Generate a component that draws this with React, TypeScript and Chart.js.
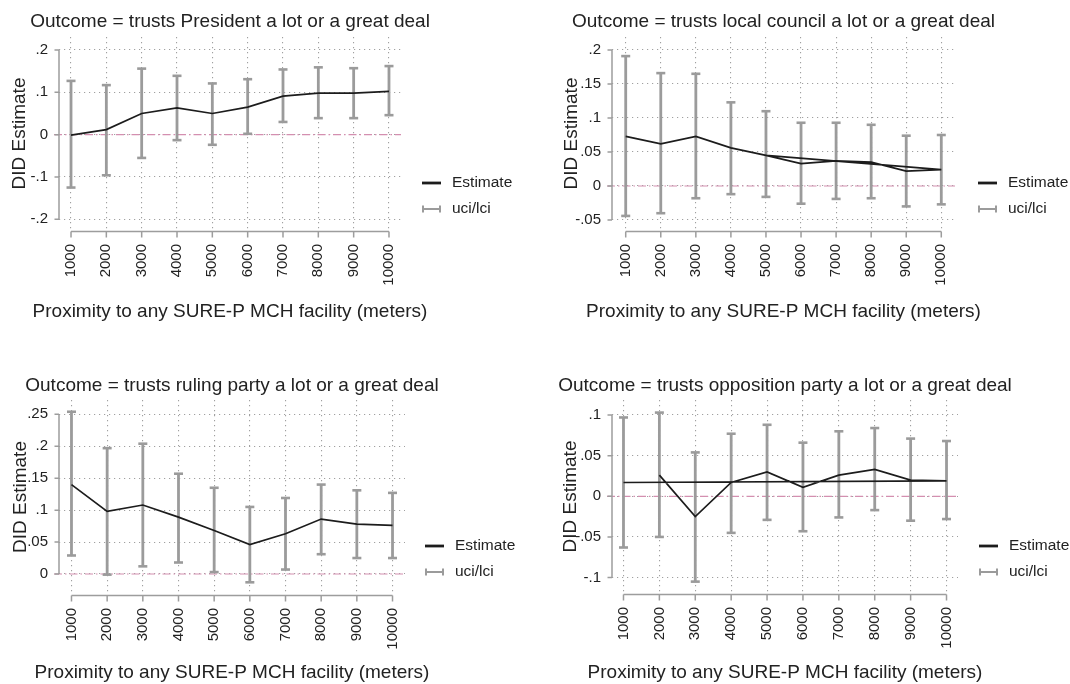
import React, { useEffect, useRef } from 'react';
import { Chart, registerables } from 'chart.js';

Chart.register(...registerables);
Chart.defaults.font.family = '"Liberation Sans", Arial, Helvetica, sans-serif';
Chart.defaults.color = '#222';

// ---------- data ----------
const distances = [1000, 2000, 3000, 4000, 5000, 6000, 7000, 8000, 9000, 10000];

const presidentEst = [-0.001, 0.012, 0.05, 0.063, 0.05, 0.065, 0.091, 0.098, 0.098, 0.102];
const presidentUci = [0.127, 0.117, 0.156, 0.139, 0.121, 0.131, 0.154, 0.159, 0.157, 0.162];
const presidentLci = [-0.125, -0.096, -0.055, -0.013, -0.024, 0.002, 0.03, 0.039, 0.039, 0.046];
const presidentPath = [1000, 2000, 3000, 4000, 5000, 6000, 7000, 8000, 9000, 10000];
const presidentTicks = [-0.2, -0.1, 0, 0.1, 0.2];
const presidentTickLabels = ['-.2', '-.1', '0', '.1', '.2'];

const councilEst = [0.073, 0.062, 0.073, 0.056, 0.045, 0.033, 0.037, 0.035, 0.022, 0.024];
const councilUci = [0.191, 0.166, 0.165, 0.123, 0.11, 0.093, 0.093, 0.09, 0.074, 0.075];
const councilLci = [-0.044, -0.04, -0.018, -0.012, -0.016, -0.026, -0.019, -0.018, -0.03, -0.027];
const councilPath = [1000, 2000, 3000, 4000, 5000, 6000, 7000, 8000, 9000, 10000, 5000];
const councilTicks = [-0.05, 0, 0.05, 0.1, 0.15, 0.2];
const councilTickLabels = ['-.05', '0', '.05', '.1', '.15', '.2'];

const rulingEst = [0.14, 0.098, 0.108, 0.089, 0.068, 0.046, 0.063, 0.086, 0.078, 0.076];
const rulingUci = [0.254, 0.197, 0.204, 0.157, 0.135, 0.105, 0.119, 0.14, 0.131, 0.127];
const rulingLci = [0.029, -0.001, 0.012, 0.018, 0.003, -0.013, 0.007, 0.031, 0.025, 0.025];
const rulingPath = [1000, 2000, 3000, 4000, 5000, 6000, 7000, 8000, 9000, 10000];
const rulingTicks = [0, 0.05, 0.1, 0.15, 0.2, 0.25];
const rulingTickLabels = ['0', '.05', '.1', '.15', '.2', '.25'];

const oppositionEst = [0.017, 0.026, -0.025, 0.017, 0.03, 0.011, 0.026, 0.033, 0.02, 0.019];
const oppositionUci = [0.097, 0.103, 0.054, 0.077, 0.088, 0.066, 0.08, 0.084, 0.071, 0.068];
const oppositionLci = [-0.063, -0.05, -0.105, -0.045, -0.029, -0.043, -0.026, -0.017, -0.03, -0.028];
const oppositionPath = [2000, 3000, 4000, 5000, 6000, 7000, 8000, 9000, 10000, 1000];
const oppositionTicks = [-0.1, -0.05, 0, 0.05, 0.1];
const oppositionTickLabels = ['-.1', '-.05', '0', '.05', '.1'];

const xTitle = 'Proximity to any SURE-P MCH facility (meters)';
const yTitle = 'DID Estimate';
const legendLabels = ['Estimate', 'uci/lci'];

// ---------- style / layout ----------
const W = 535;
const H = 342;
const FONT = '"Liberation Sans", Arial, Helvetica, sans-serif';
const BAR_COLOR = '#9b9b9b';
const AXIS_COLOR = '#9d9d9d';
const GRID_COLOR = '#a0a0a0';
const ZERO_COLOR = '#d48fb0';
const LINE_COLOR = '#1c1c1c';
const TEXT_COLOR = '#222';

type PanelCfg = {
  title: string;
  est: number[];
  uci: number[];
  lci: number[];
  path: number[];
  yTicks: number[];
  yLabels: string[];
  left: number;
  top: number;
  plotLeft: number;
  plotRight: number;
  plotTop: number;
  plotBottom: number;
  xMin: number;
  xMax: number;
  yMin: number;
  yMax: number;
  yTitlePad: number;
  xTitleY: number;
  titleY: number;
  legendX: number;
};

const panels: PanelCfg[] = [
  {
    title: 'Outcome = trusts President a lot or a great deal',
    est: presidentEst, uci: presidentUci, lci: presidentLci, path: presidentPath,
    yTicks: presidentTicks, yLabels: presidentTickLabels,
    left: 0, top: 0, plotLeft: 59, plotRight: 401, plotTop: 37, plotBottom: 230,
    xMin: 660, xMax: 10340, yMin: -0.2253, yMax: 0.2307,
    yTitlePad: 8, xTitleY: 312, titleY: 22, legendX: 422,
  },
  {
    title: 'Outcome = trusts local council a lot or a great deal',
    est: councilEst, uci: councilUci, lci: councilLci, path: councilPath,
    yTicks: councilTicks, yLabels: councilTickLabels,
    left: 535, top: 0, plotLeft: 77, plotRight: 420, plotTop: 37, plotBottom: 230,
    xMin: 609, xMax: 10391, yMin: -0.0647, yMax: 0.2191,
    yTitlePad: 25.5, xTitleY: 311.5, titleY: 22, legendX: 443,
  },
  {
    title: 'Outcome = trusts ruling party a lot or a great deal',
    est: rulingEst, uci: rulingUci, lci: rulingLci, path: rulingPath,
    yTicks: rulingTicks, yLabels: rulingTickLabels,
    left: 0, top: 363, plotLeft: 59, plotRight: 405, plotTop: 37, plotBottom: 231,
    xMin: 650, xMax: 10350, yMin: -0.0313, yMax: 0.2724,
    yTitlePad: 9.3, xTitleY: 310, titleY: 23, legendX: 425,
  },
  {
    title: 'Outcome = trusts opposition party a lot or a great deal',
    est: oppositionEst, uci: oppositionUci, lci: oppositionLci, path: oppositionPath,
    yTicks: oppositionTicks, yLabels: oppositionTickLabels,
    left: 535, top: 363, plotLeft: 77, plotRight: 423, plotTop: 37, plotBottom: 230,
    xMin: 680, xMax: 10320, yMin: -0.119, yMax: 0.1185,
    yTitlePad: 24.6, xTitleY: 310, titleY: 23, legendX: 444,
  },
];

function makeDecor(cfg: PanelCfg) {
  return {
    id: 'decor',
    beforeDatasetsDraw(chart: any) {
      const { ctx, chartArea, scales } = chart;
      const y0 = scales.y.getPixelForValue(0);
      ctx.save();
      ctx.strokeStyle = ZERO_COLOR;
      ctx.lineWidth = 1.2;
      ctx.setLineDash([8, 3, 1.5, 3]);
      ctx.beginPath();
      ctx.moveTo(chartArea.left - 5, y0);
      ctx.lineTo(chartArea.right, y0);
      ctx.stroke();
      ctx.restore();
    },
    afterDraw(chart: any) {
      const { ctx, chartArea, scales } = chart;
      const xs = scales.x;
      const ys = scales.y;
      ctx.save();
      // y axis line + ticks
      ctx.strokeStyle = AXIS_COLOR;
      ctx.lineWidth = 1.5;
      ctx.setLineDash([]);
      const yTop = ys.getPixelForValue(cfg.yTicks[cfg.yTicks.length - 1]);
      const yBot = ys.getPixelForValue(cfg.yTicks[0]);
      const ax = chartArea.left;
      ctx.beginPath();
      ctx.moveTo(ax, yTop);
      ctx.lineTo(ax, yBot);
      cfg.yTicks.forEach((v) => {
        const py = ys.getPixelForValue(v);
        ctx.moveTo(ax - 4.5, py);
        ctx.lineTo(ax, py);
      });
      ctx.stroke();
      // x axis line + ticks
      const ay = chartArea.bottom + 1.5;
      const xL = xs.getPixelForValue(distances[0]);
      const xR = xs.getPixelForValue(distances[distances.length - 1]);
      ctx.beginPath();
      ctx.moveTo(xL, ay);
      ctx.lineTo(xR, ay);
      distances.forEach((d) => {
        const px = xs.getPixelForValue(d);
        ctx.moveTo(px, ay);
        ctx.lineTo(px, ay + 6);
      });
      ctx.stroke();

      const cx = (chartArea.left + chartArea.right) / 2;
      // title and x-axis title
      ctx.fillStyle = TEXT_COLOR;
      ctx.font = `19px ${FONT}`;
      ctx.textAlign = 'center';
      ctx.textBaseline = 'middle';
      ctx.fillText(cfg.title, cx, cfg.titleY);
      ctx.fillText(xTitle, cx, cfg.xTitleY);

      // legend
      const lx = cfg.legendX;
      const ly1 = 183;
      const ly2 = 209;
      ctx.strokeStyle = LINE_COLOR;
      ctx.lineWidth = 2.8;
      ctx.beginPath();
      ctx.moveTo(lx, ly1);
      ctx.lineTo(lx + 19, ly1);
      ctx.stroke();
      ctx.strokeStyle = BAR_COLOR;
      ctx.lineWidth = 2;
      ctx.beginPath();
      ctx.moveTo(lx, ly2);
      ctx.lineTo(lx + 19, ly2);
      ctx.moveTo(lx + 1, ly2 - 3.5);
      ctx.lineTo(lx + 1, ly2 + 3.5);
      ctx.moveTo(lx + 18, ly2 - 3.5);
      ctx.lineTo(lx + 18, ly2 + 3.5);
      ctx.stroke();
      ctx.fillStyle = TEXT_COLOR;
      ctx.font = `15.5px ${FONT}`;
      ctx.textAlign = 'left';
      ctx.textBaseline = 'middle';
      ctx.fillText(legendLabels[0], lx + 30, ly1);
      ctx.fillText(legendLabels[1], lx + 30, ly2);
      ctx.restore();
    },
  };
}

function Panel({ cfg }: { cfg: PanelCfg }) {
  const ref = useRef<HTMLCanvasElement | null>(null);
  useEffect(() => {
    if (!ref.current) return;
    const lineData = cfg.path.map((d) => ({ x: d, y: cfg.est[distances.indexOf(d)] }));
    const barData: any[] = [];
    distances.forEach((d, i) => {
      barData.push({ x: d, y: cfg.lci[i] });
      barData.push({ x: d, y: cfg.uci[i] });
      barData.push({ x: d, y: null });
    });
    const chart = new Chart(ref.current, {
      type: 'line',
      data: {
        datasets: [
          {
            label: legendLabels[0],
            data: lineData,
            borderColor: LINE_COLOR,
            borderWidth: 1.7,
            pointRadius: 0,
            tension: 0,
            order: 0,
          } as any,
          {
            label: legendLabels[1],
            data: barData,
            borderColor: BAR_COLOR,
            borderWidth: 2.8,
            spanGaps: false,
            pointStyle: 'line',
            pointRadius: 4.5,
            pointBorderWidth: 2.6,
            pointBorderColor: BAR_COLOR,
            pointBackgroundColor: BAR_COLOR,
            order: 1,
          } as any,
        ],
      },
      options: {
        animation: false,
        responsive: false,
        events: [],
        layout: { padding: { left: 0, top: cfg.plotTop, right: W - cfg.plotRight, bottom: 0 } },
        plugins: { legend: { display: false }, tooltip: { enabled: false }, title: { display: false } },
        scales: {
          x: {
            type: 'linear',
            min: cfg.xMin,
            max: cfg.xMax,
            bounds: 'data',
            offset: false,
            afterBuildTicks: (s: any) => {
              s.ticks = distances.map((v) => ({ value: v }));
            },
            afterFit: (s: any) => {
              s.height = H - cfg.plotBottom;
            },
            ticks: {
              autoSkip: false,
              minRotation: 90,
              maxRotation: 90,
              padding: 14,
              color: TEXT_COLOR,
              font: { size: 15 },
              callback: (v: any) => String(v),
            },
            grid: { color: GRID_COLOR, lineWidth: 1.1, drawTicks: false },
            border: { display: false, dash: [1.2, 3.8] },
            title: { display: false },
          },
          y: {
            type: 'linear',
            min: cfg.yMin,
            max: cfg.yMax,
            bounds: 'data',
            afterBuildTicks: (s: any) => {
              s.ticks = cfg.yTicks.map((v) => ({ value: v }));
            },
            afterFit: (s: any) => {
              s.width = cfg.plotLeft;
            },
            ticks: {
              padding: 11,
              color: TEXT_COLOR,
              font: { size: 15 },
              callback: (v: any) => {
                const i = cfg.yTicks.findIndex((t) => Math.abs(t - v) < 1e-9);
                return i >= 0 ? cfg.yLabels[i] : '';
              },
            },
            grid: { color: GRID_COLOR, lineWidth: 1.1, drawTicks: false },
            border: { display: false, dash: [1.2, 3.8] },
            title: {
              display: true,
              text: yTitle,
              color: TEXT_COLOR,
              font: { size: 19 },
              padding: { top: cfg.yTitlePad, bottom: 0 },
            },
          },
        },
      } as any,
      plugins: [makeDecor(cfg)],
    });
    return () => chart.destroy();
  }, [cfg]);
  return (
    <canvas
      ref={ref}
      width={W}
      height={H}
      style={{ position: 'absolute', left: cfg.left, top: cfg.top, width: W, height: H }}
    />
  );
}

export default function App() {
  return (
    <div
      style={{
        position: 'absolute',
        left: 0,
        top: 0,
        width: 1070,
        height: 684,
        overflow: 'hidden',
        background: '#fff',
      }}
    >
      {panels.map((p, i) => (
        <Panel key={i} cfg={p} />
      ))}
    </div>
  );
}
